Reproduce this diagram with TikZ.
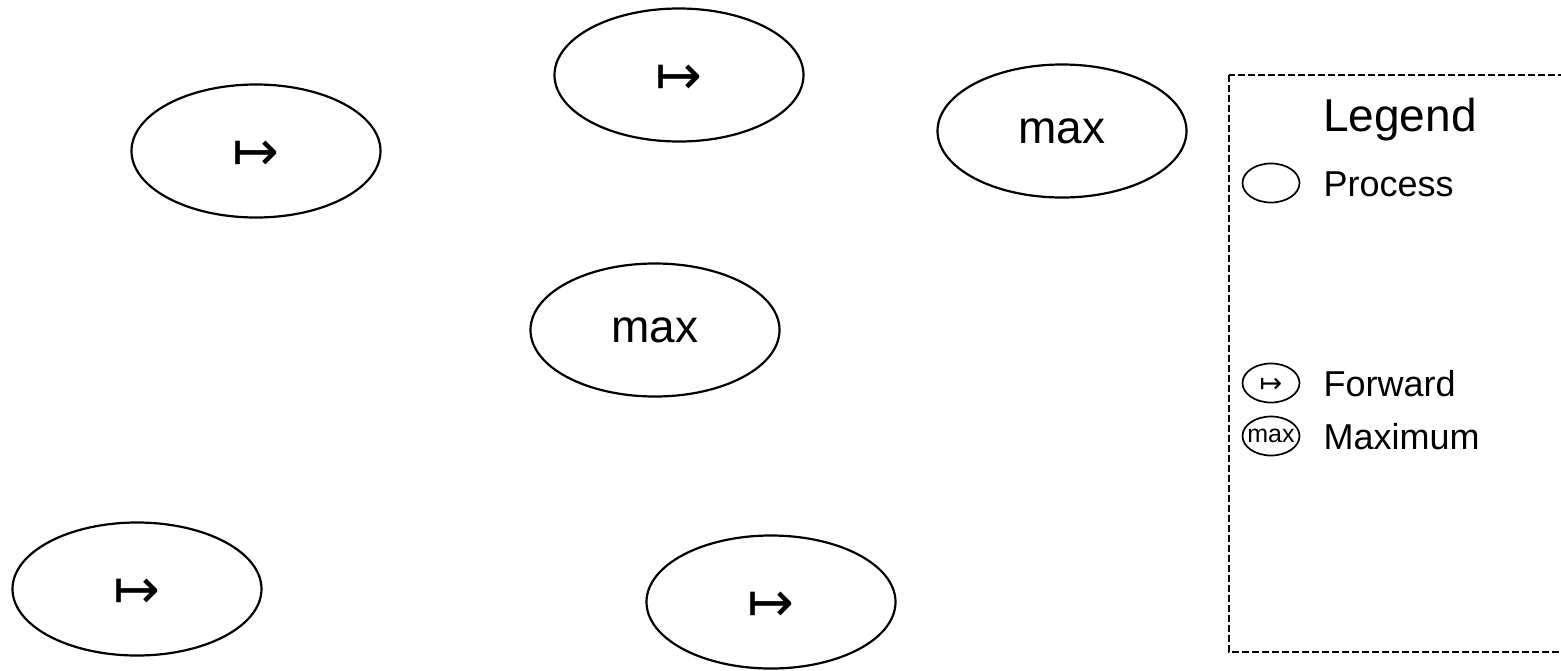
\documentclass[tikz,border=0pt]{standalone}
\usepackage{fontspec}
\setmainfont{Liberation Sans}
\newfontfamily\arrowfont{DejaVu Sans}
\usetikzlibrary{shapes.geometric}
\newcommand{\fwd}{{\arrowfont\raisebox{-0.09em}[\height][0pt]{↦}}}

\begin{document}
\begin{tikzpicture}[x=1pt, y=-1pt,
    proc/.style={ellipse, draw, line width=2.2pt, minimum width=249pt, minimum height=133pt, inner sep=0pt, font=\fontsize{46}{55}\selectfont},
    fwdtext/.style={font=\fontsize{56}{62}\selectfont},
    keyproc/.style={ellipse, draw, line width=1.7pt, minimum width=57pt, minimum height=39pt, inner sep=0pt, font=\fontsize{24}{28}\selectfont},
    keytext/.style={anchor=base west, font=\fontsize{36}{43}\selectfont}]
    \useasboundingbox (0,0) rectangle (1561,670);
    \clip (0,0) rectangle (1561,670);
    % processes
    \node[proc, fwdtext] (fwdA) at (256,151) {\fwd};
    \node[proc, fwdtext] (fwdB) at (679,75) {\fwd};
    \node[proc] (maxA) at (1062,131) {max};
    \node[proc] (maxB) at (655,330) {max};
    \node[proc, fwdtext] (fwdC) at (137,589) {\fwd};
    \node[proc, fwdtext] (fwdD) at (771,602) {\fwd};
    % legend
    \draw[line width=2.6pt, dash pattern=on 7pt off 3pt] (1229,75) rectangle (1580,652);
    \node[anchor=base, font=\fontsize{46}{55}\selectfont] (legtitle) at (1400,131) {Legend};
    \node[keyproc] (keyproc) at (1271,183) {};
    \node[keytext] (keyproctxt) at (1320,196) {Process};
    \node[keyproc, font=\fontsize{27}{32}\selectfont] (keyfwd) at (1271,383) {\fwd};
    \node[keytext] (keyfwdtxt) at (1320,396) {Forward};
    \node[keyproc, inner sep=-4pt, font=\fontsize{25}{30}\selectfont] (keymax) at (1271,436) {max};
    \node[keytext] (keymaxtxt) at (1320,449) {Maximum};
\end{tikzpicture}
\end{document}
